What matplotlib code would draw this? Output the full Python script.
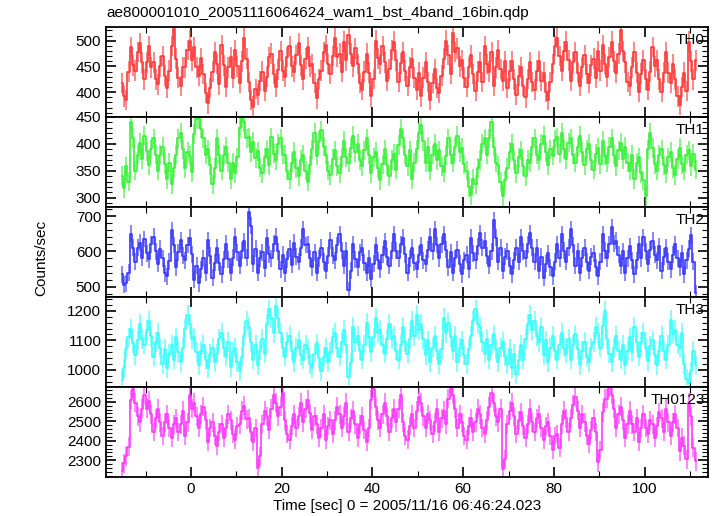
import numpy as np
import matplotlib
matplotlib.use("Agg")
import matplotlib.pyplot as plt
from matplotlib.ticker import MultipleLocator

plt.rcParams["font.family"] = ["Liberation Sans", "DejaVu Sans"]

title = "ae800001010_20051116064624_wam1_bst_4band_16bin.qdp"
xlabel = "Time [sec] 0 = 2005/11/16 06:46:24.023"
ylabel = "Counts/sec"

t_start = -15.25   # first bin centre
bin_w = 0.5        # sec

th0 = [418, 392, 385, 440, 488, 452, 442, 478, 495, 458, 425, 458, 490, 448, 458, 425, 415, 450, 470, 432,
       408, 442, 490, 522, 465, 428, 412, 448, 448, 482, 500, 462, 488, 448, 432, 466, 435, 398, 378, 408,
       440, 478, 455, 415, 492, 452, 410, 448, 468, 428, 482, 450, 418, 460, 505, 465, 420, 385, 372, 406,
       395, 422, 440, 402, 430, 468, 475, 435, 410, 444, 480, 442, 430, 468, 490, 450, 440, 472, 495, 452,
       425, 465, 488, 450, 455, 418, 388, 426, 442, 478, 492, 455, 435, 470, 505, 468, 475, 440, 498, 462,
       512, 475, 450, 485, 455, 418, 405, 440, 475, 438, 392, 426, 500, 466, 455, 490, 458, 422, 445, 482,
       498, 462, 420, 456, 478, 442, 412, 448, 465, 428, 405, 438, 392, 428, 458, 420, 385, 418, 445, 408,
       398, 432, 465, 500, 472, 435, 515, 478, 485, 450, 462, 428, 410, 448, 472, 435, 402, 440, 458, 420,
       490, 455, 440, 478, 412, 448, 482, 445, 422, 460, 408, 442, 460, 425, 395, 432, 448, 412, 390, 426,
       458, 420, 405, 442, 460, 422, 438, 400, 385, 420, 455, 490, 505, 470, 442, 480, 498, 462, 422, 458,
       478, 438, 412, 448, 472, 435, 418, 452, 465, 428, 480, 442, 492, 455, 430, 468, 498, 460, 438, 475,
       520, 480, 458, 420, 412, 448, 478, 438, 400, 436, 462, 425, 405, 440, 488, 450, 462, 425, 400, 438,
       478, 438, 418, 455, 425, 392, 375, 410, 438, 402, 498, 460, 425, 462]

th1 = [340, 318, 358, 330, 440, 410, 350, 380, 402, 372, 415, 386, 360, 390, 410, 380, 350, 380, 395, 362,
       335, 365, 325, 355, 380, 410, 420, 390, 355, 385, 378, 348, 418, 446, 448, 428, 410, 380, 390, 360,
       325, 355, 410, 380, 350, 380, 395, 365, 335, 365, 345, 375, 430, 448, 440, 410, 412, 385, 404, 374,
       386, 356, 345, 375, 390, 360, 412, 382, 370, 400, 410, 380, 380, 350, 335, 365, 385, 355, 340, 370,
       380, 350, 330, 360, 390, 420, 378, 406, 425, 395, 380, 350, 342, 372, 388, 358, 345, 375, 405, 375,
       365, 392, 415, 385, 400, 370, 358, 388, 410, 380, 345, 375, 385, 355, 332, 362, 390, 360, 340, 370,
       382, 352, 398, 428, 410, 380, 358, 388, 335, 365, 390, 420, 435, 405, 365, 395, 350, 380, 400, 370,
       388, 358, 348, 378, 410, 380, 365, 395, 415, 385, 392, 362, 350, 320, 305, 335, 325, 355, 370, 400,
       410, 380, 410, 440, 395, 365, 360, 330, 303, 332, 355, 385, 400, 370, 345, 375, 388, 358, 340, 370,
       365, 395, 410, 380, 370, 400, 415, 385, 360, 390, 378, 408, 412, 382, 420, 390, 372, 402, 410, 380,
       365, 395, 415, 385, 360, 390, 400, 370, 352, 382, 392, 362, 405, 378, 365, 395, 410, 380, 358, 388,
       402, 372, 395, 365, 350, 380, 335, 365, 375, 345, 332, 303, 390, 420, 392, 362, 350, 380, 390, 360,
       345, 375, 385, 355, 342, 372, 392, 362, 350, 380, 388, 358, 382, 352]

th2 = [535, 505, 510, 540, 650, 610, 570, 610, 625, 582, 635, 595, 578, 620, 642, 600, 565, 608, 580, 538,
       530, 572, 660, 618, 555, 598, 632, 588, 575, 618, 638, 592, 520, 560, 510, 550, 580, 540, 632, 588,
       525, 568, 610, 568, 535, 578, 622, 578, 540, 582, 642, 598, 560, 602, 628, 582, 712, 672, 565, 608,
       540, 580, 598, 552, 638, 592, 580, 622, 642, 600, 550, 590, 538, 578, 608, 562, 625, 585, 570, 610,
       662, 618, 620, 580, 555, 598, 540, 580, 610, 570, 545, 588, 632, 588, 575, 618, 648, 602, 560, 602,
       490, 545, 620, 578, 555, 598, 610, 568, 540, 580, 522, 565, 618, 575, 550, 590, 628, 585, 560, 602,
       648, 602, 580, 620, 638, 592, 540, 580, 610, 568, 550, 590, 618, 575, 565, 605, 642, 600, 662, 618,
       580, 620, 648, 605, 555, 598, 540, 580, 605, 565, 535, 575, 590, 550, 638, 595, 575, 615, 652, 610,
       630, 588, 560, 600, 688, 638, 570, 610, 545, 585, 600, 560, 535, 575, 610, 570, 640, 600, 580, 620,
       652, 610, 570, 610, 545, 585, 525, 565, 595, 555, 530, 570, 620, 580, 648, 602, 570, 610, 662, 618,
       560, 600, 540, 580, 610, 570, 545, 585, 595, 555, 530, 570, 648, 602, 580, 620, 668, 622, 630, 590,
       560, 600, 540, 580, 615, 575, 535, 575, 620, 580, 640, 600, 565, 605, 630, 590, 575, 615, 545, 585,
       610, 570, 550, 590, 620, 580, 555, 595, 535, 575, 608, 645, 570, 482]

th3 = [965, 1005, 1070, 1110, 1140, 1090, 1050, 1100, 1155, 1105, 1085, 1135, 1165, 1115, 1045, 1095, 1125, 1075, 1020, 1070,
       1005, 1055, 1085, 1035, 1110, 1060, 1025, 1075, 1140, 1185, 1155, 1105, 1110, 1060, 1015, 1065, 1085, 1035, 1005, 1055,
       1075, 1025, 1055, 1105, 1125, 1075, 1045, 1095, 1010, 1060, 1075, 1025, 995, 1045, 1115, 1165, 1145, 1095, 1035, 1085,
       1015, 1065, 1105, 1055, 1155, 1205, 1175, 1125, 1215, 1175, 1125, 1075, 1045, 1095, 1115, 1065, 1025, 1075, 1100, 1050,
       1035, 1085, 1070, 1020, 1005, 1055, 1090, 1040, 995, 1045, 1075, 1025, 1060, 1110, 1125, 1075, 1045, 1095, 1135, 1085,
       975, 1025, 1145, 1095, 1115, 1065, 1035, 1085, 1160, 1110, 1060, 1110, 1175, 1125, 1135, 1085, 1055, 1105, 1155, 1105,
       1115, 1065, 1035, 1085, 1145, 1095, 1055, 1105, 1165, 1115, 1185, 1135, 1155, 1105, 1050, 1100, 1025, 1075, 1115, 1065,
       1020, 1070, 1175, 1125, 1160, 1110, 1065, 1115, 1025, 1075, 1100, 1050, 1020, 1070, 1115, 1165, 1205, 1155, 1145, 1095,
       1055, 1105, 1035, 1085, 1120, 1070, 1025, 1075, 1095, 1045, 1020, 1070, 1005, 1055, 985, 1035, 1085, 1035, 1105, 1155,
       1185, 1135, 1165, 1115, 1095, 1145, 1050, 1100, 1025, 1075, 1115, 1065, 1035, 1085, 1125, 1075, 1055, 1105, 1035, 1085,
       1120, 1070, 1015, 1065, 1095, 1045, 1025, 1075, 1095, 1145, 1125, 1075, 1150, 1200, 1105, 1055, 1025, 1075, 1115, 1065,
       1035, 1085, 1015, 1065, 1110, 1060, 1145, 1095, 1045, 1095, 1125, 1075, 1030, 1080, 1100, 1050, 1015, 1065, 1115, 1065,
       1035, 1085, 1170, 1120, 1135, 1085, 1075, 1125, 1020, 970, 955, 995, 1065, 1015]

th0123 = [2245, 2285, 2320, 2370, 2610, 2665, 2595, 2525, 2495, 2565, 2635, 2565, 2605, 2535, 2445, 2515, 2565, 2495, 2425, 2495,
          2535, 2465, 2415, 2485, 2515, 2445, 2485, 2555, 2425, 2495, 2635, 2565, 2595, 2525, 2465, 2535, 2575, 2505, 2395, 2465,
          2495, 2425, 2375, 2445, 2485, 2415, 2465, 2535, 2505, 2435, 2405, 2475, 2485, 2555, 2580, 2510, 2515, 2445, 2395, 2465,
          2260, 2320, 2485, 2555, 2525, 2455, 2565, 2635, 2595, 2525, 2575, 2645, 2505, 2435, 2405, 2475, 2535, 2465, 2525, 2595,
          2495, 2565, 2610, 2540, 2455, 2525, 2485, 2415, 2465, 2535, 2405, 2475, 2505, 2435, 2505, 2575, 2535, 2465, 2525, 2595,
          2445, 2515, 2555, 2485, 2415, 2485, 2525, 2455, 2395, 2465, 2610, 2665, 2575, 2505, 2465, 2535, 2595, 2525, 2445, 2515,
          2565, 2495, 2565, 2635, 2495, 2425, 2405, 2475, 2535, 2465, 2555, 2625, 2595, 2525, 2465, 2535, 2505, 2435, 2495, 2565,
          2445, 2515, 2555, 2485, 2615, 2670, 2635, 2565, 2465, 2535, 2495, 2425, 2405, 2475, 2515, 2445, 2495, 2565, 2535, 2465,
          2435, 2505, 2575, 2645, 2595, 2525, 2495, 2565, 2255, 2305, 2485, 2555, 2595, 2525, 2435, 2505, 2545, 2475, 2415, 2485,
          2565, 2495, 2445, 2515, 2535, 2465, 2405, 2475, 2495, 2425, 2355, 2425, 2435, 2365, 2485, 2555, 2515, 2445, 2515, 2585,
          2625, 2555, 2465, 2535, 2495, 2425, 2385, 2455, 2515, 2445, 2290, 2350, 2545, 2615, 2615, 2670, 2635, 2565, 2465, 2535,
          2575, 2505, 2415, 2485, 2555, 2485, 2445, 2515, 2395, 2465, 2535, 2465, 2435, 2505, 2485, 2415, 2475, 2545, 2515, 2445,
          2565, 2495, 2425, 2495, 2535, 2465, 2345, 2415, 2375, 2305, 2595, 2525, 2365, 2295]

names = ["TH0", "TH1", "TH2", "TH3", "TH0123"]
series = [th0, th1, th2, th3, th0123]
errs = [20, 18, 24, 33, 48]
colors = ["#ff3838", "#38f038", "#3838ff", "#38ffff", "#ff38ff"]
ylims = [(352, 527), (283, 450), (471, 726), (942, 1247), (2214, 2676)]
majors = [50, 50, 100, 100, 100]
minors = [10, 10, 20, 20, 20]

fig = plt.figure(figsize=(7.17, 5.16), dpi=100)
axes = fig.subplots(5, 1, sharex=True)
fig.subplots_adjust(left=0.148, right=0.987, top=0.948, bottom=0.0756, hspace=0)

for ax, name, vals, err, c, yl, mj, mn in zip(axes, names, series, errs, colors, ylims, majors, minors):
    vals = np.array(vals)
    t = t_start + bin_w * np.arange(len(vals))
    ax.errorbar(t, vals, yerr=err, fmt="none", ecolor=c, alpha=0.6, elinewidth=1.4)
    ax.step(t, vals, where="mid", color=c, lw=1.2)
    ax.set_ylim(*yl)
    ax.yaxis.set_major_locator(MultipleLocator(mj))
    ax.yaxis.set_minor_locator(MultipleLocator(mn))
    ax.xaxis.set_major_locator(MultipleLocator(20))
    ax.xaxis.set_minor_locator(MultipleLocator(10))
    ax.tick_params(which="both", direction="in", top=True, right=True, labelsize=11)
    ax.tick_params(which="major", length=7, width=1.2)
    ax.tick_params(which="minor", length=4, width=0.8)
    for s in ax.spines.values():
        s.set_linewidth(1.3)
    ax.text(0.995, 0.93, name, transform=ax.transAxes, ha="right", va="top", fontsize=11)

axes[0].set_xlim(-18.7, 113.9)
fig.text(0.149, 0.975, title, ha="left", va="center", fontsize=11)
axes[-1].set_xlabel(xlabel, fontsize=11, labelpad=2)
fig.text(0.058, 0.5, ylabel, rotation=90, ha="center", va="center", fontsize=11)

fig.savefig("out.png", dpi=100)
